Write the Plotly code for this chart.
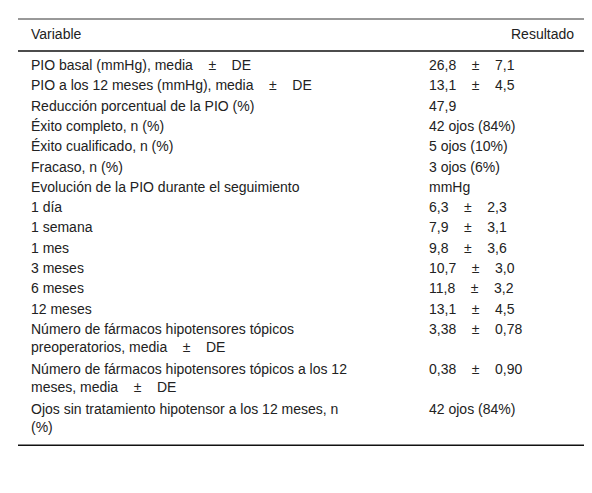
import plotly.graph_objects as go

# table content
variables = [
    "PIO basal (mmHg), media ± DE",
    "PIO a los 12 meses (mmHg), media ± DE",
    "Reducción porcentual de la PIO (%)",
    "Éxito completo, n (%)",
    "Éxito cualificado, n (%)",
    "Fracaso, n (%)",
    "Evolución de la PIO durante el seguimiento",
    "1 día",
    "1 semana",
    "1 mes",
    "3 meses",
    "6 meses",
    "12 meses",
    "Número de fármacos hipotensores tópicos<br>preoperatorios, media ± DE",
    "Número de fármacos hipotensores tópicos a los 12<br>meses, media ± DE",
    "Ojos sin tratamiento hipotensor a los 12 meses, n<br>(%)",
]
resultados = [
    "26,8 ± 7,1", "13,1 ± 4,5", "47,9", "42 ojos (84%)", "5 ojos (10%)",
    "3 ojos (6%)", "mmHg", "6,3 ± 2,3", "7,9 ± 3,1", "9,8 ± 3,6",
    "10,7 ± 3,0", "11,8 ± 3,2", "13,1 ± 4,5", "3,38 ± 0,78",
    "0,38 ± 0,90", "42 ojos (84%)",
]

sp = "\u00a0" * 4
def fmt(s):
    return s.replace(" ± ", sp + "±" + sp)

FONT = dict(family="Liberation Sans, Arial, sans-serif", size=14, color="#222")
ROW = 20.3      # single-line row height
EXTRA = 19.5    # extra height per wrapped line

fig = go.Figure()
ann = []
ann.append(dict(x=22, y=26, text="Variable", xanchor="left"))
ann.append(dict(x=567, y=26, text="Resultado", xanchor="right"))

y = 57
for v, r in zip(variables, resultados):
    nlines = v.count("<br>") + 1
    top = y - 9
    ann.append(dict(x=22, y=top, text=fmt(v), xanchor="left", yanchor="top"))
    ann.append(dict(x=420, y=top, text=fmt(r), xanchor="left", yanchor="top"))
    y += ROW + EXTRA * (nlines - 1)

for a in ann:
    a.update(xref="x", yref="y", showarrow=False, font=FONT, align="left",
             borderpad=0)
    a.setdefault("yanchor", "middle")

shapes = [
    dict(type="line", x0=10, x1=582, y0=11, y1=11, line=dict(color="#333", width=1)),
    dict(type="line", x0=10, x1=582, y0=43, y1=43, line=dict(color="#111", width=1.5)),
    dict(type="line", x0=10, x1=582, y0=y - 3, y1=y - 3, line=dict(color="#111", width=1.5)),
]
for s in shapes:
    s.update(xref="x", yref="y")

fig.update_layout(
    width=592, height=493, margin=dict(l=0, r=0, t=0, b=0),
    paper_bgcolor="white", plot_bgcolor="white",
    xaxis=dict(range=[0, 592], visible=False, fixedrange=True),
    yaxis=dict(range=[493, 0], visible=False, fixedrange=True),
    annotations=ann, shapes=shapes, showlegend=False,
)
fig.add_trace(go.Scatter(x=[0], y=[0], mode="markers", marker=dict(opacity=0), hoverinfo="skip"))
fig.write_html("out.html")
